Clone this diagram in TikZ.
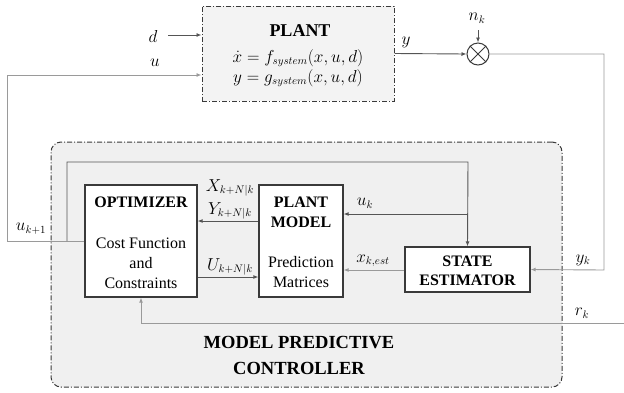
\documentclass[tikz,border=0pt]{standalone}
\usepackage{fontspec}
\setmainfont{Liberation Serif}
\usetikzlibrary{arrows.meta}
\definecolor{boxline}{HTML}{3A3A3A}
\definecolor{darkln}{HTML}{555555}
\definecolor{lightln}{HTML}{9A9A9A}
\definecolor{panel}{HTML}{F0F0F0}
\tikzset{
  txt/.style={font=\fontsize{16}{19}\selectfont, inner sep=0pt},
  ttl/.style={font=\fontsize{16}{19}\selectfont\bfseries, inner sep=0pt},
  bigttl/.style={font=\fontsize{18.5}{22}\selectfont\bfseries, inner sep=0pt},
  blockbox/.style={draw=boxline, line width=1.3pt, fill=white, inner sep=0pt},
  dashdotbox/.style={draw=boxline, line width=1pt, dash pattern=on 5pt off 2pt on 1pt off 2pt},
  arr/.style={-{Latex[length=5pt,width=4pt]}, line width=0.9pt},
  plain/.style={line width=0.9pt}
}
\begin{document}
\begin{tikzpicture}[x=1pt,y=-1pt]
\useasboundingbox (0,0) rectangle (624,392);
% panels
\node[dashdotbox, fill=panel, rounded corners=10pt, minimum width=511pt, minimum height=245pt, inner sep=0pt] (mpc) at (306.5,264.5) {};
\node[dashdotbox, fill=panel!80!white, minimum width=192pt, minimum height=95pt, inner sep=0pt] (plant) at (298,53.5) {};
% blocks
\node[blockbox, minimum width=112pt, minimum height=112pt] (opt) at (141,241) {};
\node[blockbox, minimum width=84pt, minimum height=112pt] (pm) at (301,241) {};
\node[blockbox, minimum width=125pt, minimum height=45pt] (se) at (467.5,269.5) {};
\node[draw=boxline, line width=1pt, circle, fill=white, minimum size=22pt, inner sep=0pt] (mix) at (478,54) {};
\draw[boxline, line width=1pt] (mix.45) -- (mix.225) (mix.135) -- (mix.315);
% plant text
\node[font=\fontsize{18}{21}\selectfont\bfseries, inner sep=0pt] (ptitle) at (300,31) {PLANT};
\node[txt] (peq1) at (298,58) {$\dot{x} = f_{system}(x,u,d)$};
\node[txt] (peq2) at (298,78) {$y = g_{system}(x,u,d)$};
% block texts
\node[ttl] (t1) at (141,202) {OPTIMIZER};
\node[txt] (t2) at (141,243) {Cost Function};
\node[txt] (t3) at (141,263) {and};
\node[txt] (t4) at (141,283) {Constraints};
\node[ttl] (t5) at (301,202) {PLANT};
\node[ttl] (t6) at (301,222) {MODEL};
\node[txt] (t7) at (301,262) {Prediction};
\node[txt] (t8) at (301,282) {Matrices};
\node[ttl] (t9) at (467.5,261) {STATE};
\node[ttl] (t10) at (467.5,280) {ESTIMATOR};
\node[bigttl] (t11) at (299,343) {MODEL PREDICTIVE};
\node[bigttl] (t12) at (299,368) {CONTROLLER};
% signal labels
\node[txt] (ld) at (153,36) {$d$};
\node[txt] (lu) at (155,63) {$u$};
\node[txt] (ly) at (406,42) {$y$};
\node[txt] (lnk) at (477,18) {$n_k$};
\node[txt] (luk1) at (31,229) {$u_{k+1}$};
\node[txt] (lX) at (230,188) {$X_{k+N|k}$};
\node[txt] (lY) at (230,211) {$Y_{k+N|k}$};
\node[txt] (lU) at (230,267) {$U_{k+N|k}$};
\node[txt] (luk) at (365,203) {$u_k$};
\node[txt] (lxk) at (373,261) {$x_{k,est}$};
\node[txt] (lyk) at (583,260) {$y_k$};
\node[txt] (lrk) at (582,313) {$r_k$};
% coordinates
\coordinate (dstart) at (168,35);
\coordinate (ul) at (7,75);
\coordinate (j1) at (67,241);
\coordinate (j2) at (468,162);
\coordinate (j3) at (468,214);
\coordinate (nk) at (478,30);
\coordinate (yr) at (604,270);
\coordinate (rr) at (624,323);
% connectors
\draw[arr, darkln] (dstart) -- (dstart -| plant.west);
\draw[arr, lightln] (opt.west) -| (ul) -- (ul -| plant.west);
\draw[arr, darkln] (j1) |- (j2) -- (se.north);
\draw[arr, darkln] (j3) -- (j3 -| pm.east);
\draw[arr, darkln] (pm.west |- 0,221) -- (opt.east |- 0,221);
\draw[arr, darkln] (opt.east |- 0,277) -- (pm.west |- 0,277);
\draw[arr, lightln] (se.west |- 0,270) -- (pm.east |- 0,270);
\draw[arr, darkln] (plant.east) -- (mix.west);
\draw[arr, darkln] (nk) -- (mix.north);
\draw[arr, lightln] (mix.east) -| (yr) -- (se.east);
\draw[arr, lightln] (rr) -| (opt.south);
\end{tikzpicture}
\end{document}
